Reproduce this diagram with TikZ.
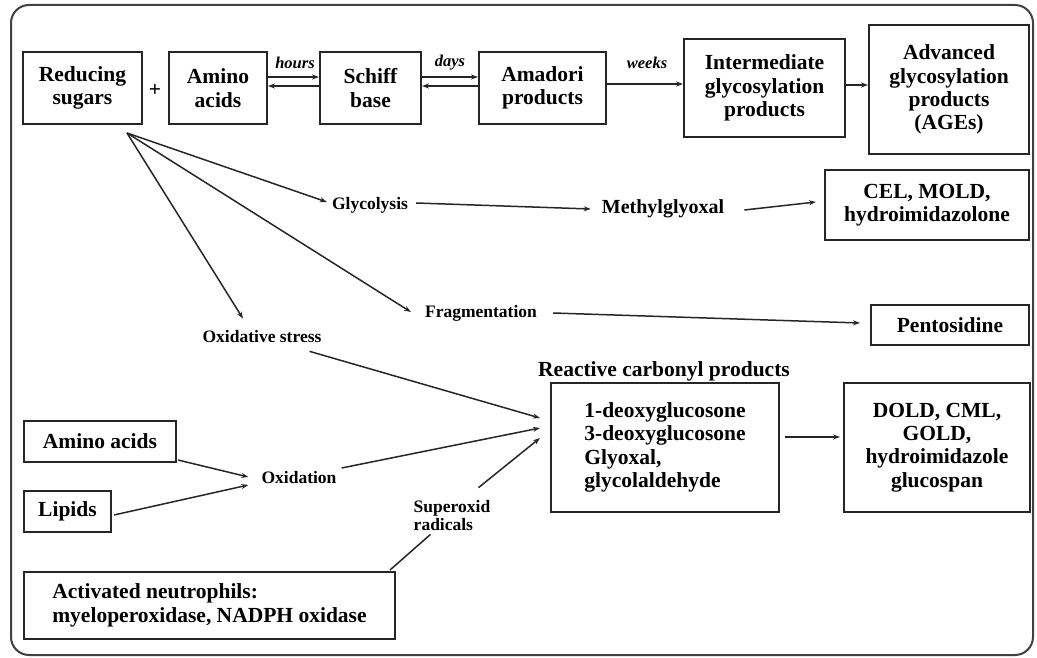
\documentclass[tikz,border=0pt]{standalone}
\usepackage{fontspec}
\setmainfont{Liberation Serif}
\usetikzlibrary{arrows.meta,calc}
\newcommand\bxfont{\fontsize{21.5}{23.3}\selectfont\bfseries}
\newcommand\lbfont{\fontsize{17.5}{18}\selectfont\bfseries}
\newcommand\itfont{\fontsize{16.5}{18}\selectfont\bfseries\itshape}
\tikzset{
  bx/.style={draw=black!85, line width=2pt, inner sep=0pt, align=center, font=\bxfont},
  lb/.style={inner sep=0pt, align=center, font=\lbfont},
  it/.style={inner sep=0pt, font=\itfont},
  arr/.style={draw=black!85, line width=1.5pt, -{Stealth[length=7pt,width=5pt]}},
  ln/.style={draw=black!85, line width=1.5pt},
}
\begin{document}
\begin{tikzpicture}[x=1pt,y=-1pt]
\useasboundingbox (0,0) rectangle (1037,658);
\draw[draw=black!75, line width=2pt, rounded corners=18pt] (11,5) rectangle (1033,655);

% top row
\node[bx, minimum width=119, minimum height=72] (rs) at (82.5,88) {Reducing\\sugars};
\node[font=\bxfont, inner sep=0pt] (plus) at (155,90) {+};
\node[bx, minimum width=98, minimum height=72] (aa) at (218,88) {Amino\\acids};
\node[bx, minimum width=101, minimum height=72] (sb) at (370.5,88) {Schiff\\base};
\node[bx, minimum width=127, minimum height=72] (ap) at (542.5,88) {Amadori\\products};
\node[bx, minimum width=161, minimum height=98] (ig) at (764.5,88) {Intermediate\\glycosylation\\products};
\node[bx, minimum width=160, minimum height=129] (age) at (949,89.5) {Advanced\\glycosylation\\products\\(AGEs)};

\node[it] (hours) at (295,63) {hours};
\node[it] (days) at (450,63) {days};
\node[it] (weeks) at (647,63) {weeks};

\draw[arr] ($(aa.east)+(0,-11)$) -- ($(sb.west)+(0,-11)$);
\draw[arr] ($(sb.west)+(0,-2)$) -- ($(aa.east)+(0,-2)$);
\draw[arr] ($(sb.east)+(0,-11)$) -- ($(ap.west)+(0,-11)$);
\draw[arr] ($(ap.west)+(0,-2)$) -- ($(sb.east)+(0,-2)$);
\draw[arr] ($(ap.east)+(0,-4)$) -- ($(ig.west)+(0,-4)$);
\draw[arr] ($(ig.east)+(0,-3)$) -- ($(age.west)+(0,-4.5)$);

% right column
\node[bx, minimum width=204, minimum height=70] (cel) at (927,205) {CEL, MOLD,\\hydroimidazolone};
\node[bx, minimum width=158, minimum height=40] (pen) at (950,325) {Pentosidine};
\node[bx, minimum width=228, minimum height=129, align=left] (rc) at (665,447.5) {1-deoxyglucosone\\3-deoxyglucosone\\Glyoxal,\\glycolaldehyde};
\node[bx, minimum width=186, minimum height=129] (dold) at (937,447.5) {DOLD, CML,\\GOLD,\\hydroimidazole\\glucospan};
\node[font=\bxfont, inner sep=0pt] (rcl) at (664,371) {Reactive carbonyl products};

% middle labels
\node[lb] (glyc) at (370,205) {Glycolysis};
\node[lb] (frag) at (481,313) {Fragmentation};
\node[lb] (oxs) at (262,337) {Oxidative stress};
\node[font=\fontsize{20}{22}\selectfont\bfseries, inner sep=0pt] (mg) at (663,209) {Methylglyoxal};
\node[lb] (oxd) at (299,478) {Oxidation};
\node[lb, align=left] (sup) at (452,516) {Superoxid\\radicals};

% lower left boxes
\node[bx, minimum width=152, minimum height=41] (aa2) at (100,441.5) {Amino acids};
\node[bx, minimum width=87, minimum height=41] (lip) at (67.5,511.5) {Lipids};
\node[bx, minimum width=371, minimum height=67, align=left] (neu) at (209.5,605.5) {Activated neutrophils:\\myeloperoxidase, NADPH oxidase};

% connectors from reducing sugars
\coordinate (apex) at ($(rs.south)+(44.5,8)$);
\draw[arr] (apex) -- ($(glyc.west)+(-5,-3)$);
\draw[arr] (apex) -- ($(frag.west)+(-14,-1)$);
\draw[arr] (apex) -- ($(oxs.north)+(-19,-12)$);

\draw[arr] ($(glyc.east)+(8,-2)$) -- ($(mg.west)+(-11,0)$);
\draw[arr] ($(mg.east)+(20,1)$) -- ($(cel.west)+(-8,-3)$);
\draw[arr] ($(frag.east)+(16,0)$) -- ($(pen.west)+(-10,-2)$);

\draw[arr] ($(oxs.south east)+(-12,8)$) -- ($(rc.west)+(-10,-29.5)$);
\draw[arr] ($(aa2.east)+(1,18.5)$) -- ($(oxd.west)+(-13,-1)$);
\draw[arr] ($(lip.east)+(2,3.5)$) -- ($(oxd.west)+(-13,7)$);
\draw[arr] ($(oxd.east)+(5,-10)$) -- ($(rc.west)+(-10,-19.5)$);
\draw[ln] ($(neu.north east)+(-6,-1)$) -- ($(sup.south west)+(17,3)$);
\draw[arr] ($(sup.north east)+(-12,-13)$) -- ($(rc.west)+(-10,-9.5)$);
\draw[arr] ($(rc.east)+(5,-10.5)$) -- ($(dold.west)+(-3,-10.5)$);
\end{tikzpicture}
\end{document}
